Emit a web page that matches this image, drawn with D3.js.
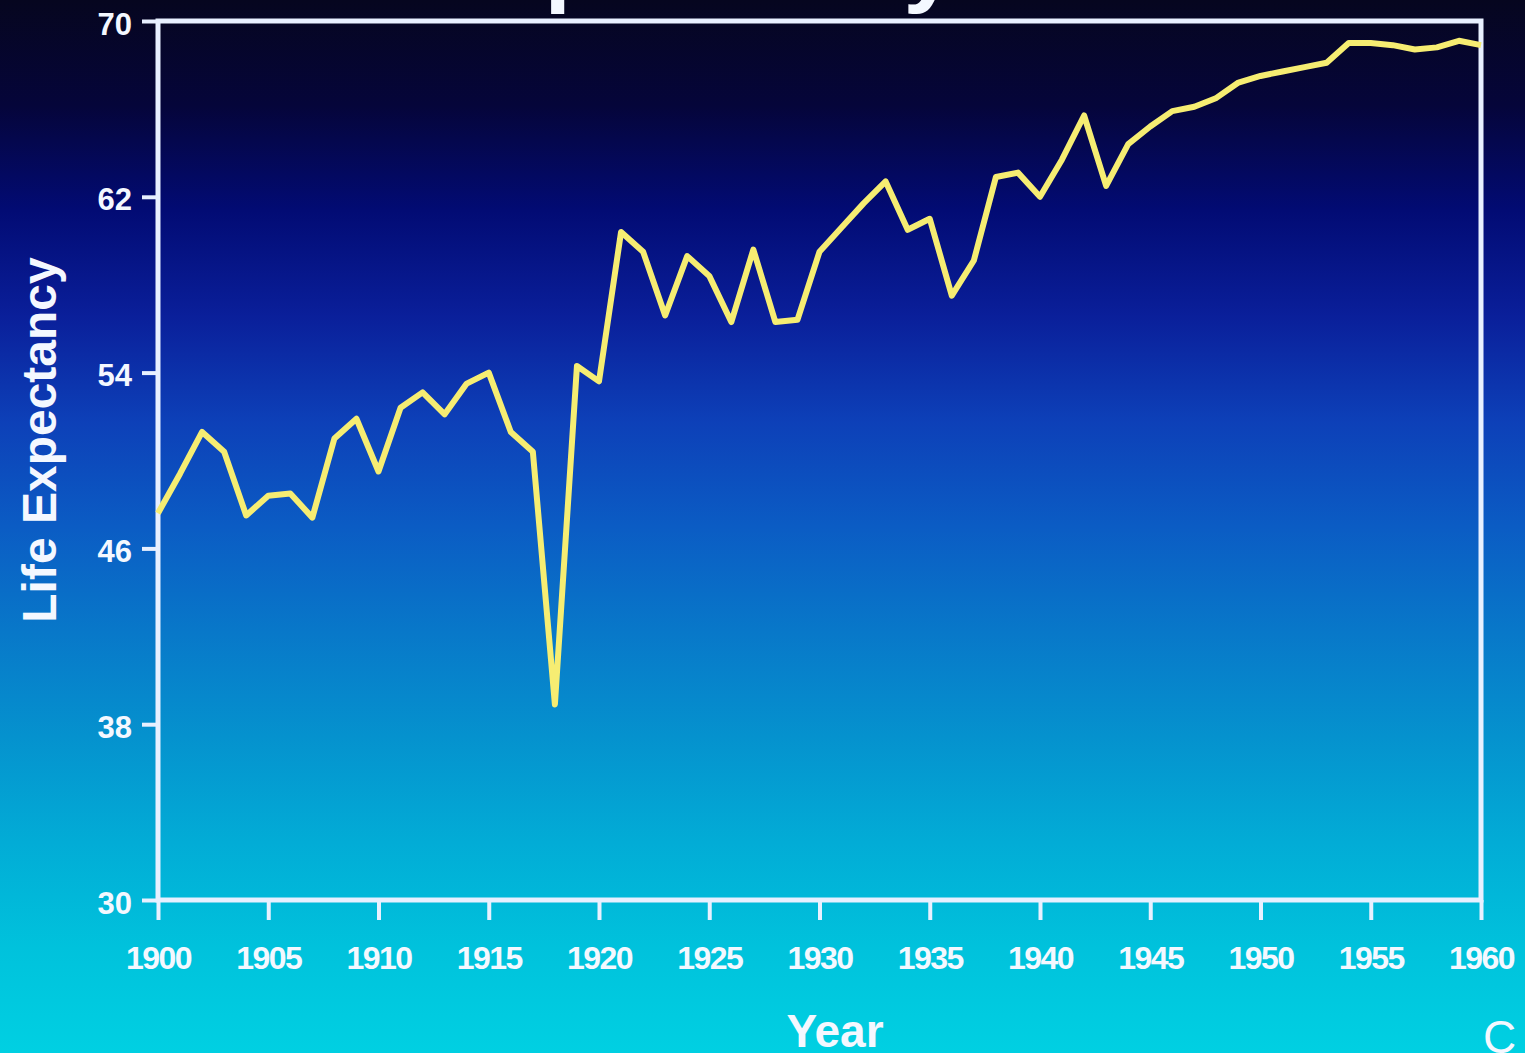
<!DOCTYPE html>
<html>
<head>
<meta charset="utf-8">
<script src="https://cdn.jsdelivr.net/npm/d3@7"></script>
<style>
  html, body { margin: 0; padding: 0; background: #050525; overflow: hidden; }
  svg { display: block; }
  .axis text { fill: #f4f8ff; font-family: "Liberation Sans", Arial, sans-serif; font-weight: bold; }
  .axis line, .axis path { stroke: #e8f0ff; stroke-width: 4; }
</style>
</head>
<body>
<script>
// Data: U.S. life expectancy by year
var startYear = 1900;
var lifeExpectancy = [
  47.6, 49.4, 51.3, 50.4, 47.5, 48.4, 48.5, 47.4, 51.0, 51.9,
  49.5, 52.4, 53.1, 52.1, 53.5, 54.0, 51.3, 50.4, 38.9, 54.3,
  53.6, 60.4, 59.5, 56.6, 59.3, 58.4, 56.3, 59.6, 56.3, 56.4,
  59.5, 60.6, 61.7, 62.7, 60.5, 61.0, 57.5, 59.1, 62.9, 63.1,
  62.0, 63.7, 65.7, 62.5, 64.4, 65.2, 65.9, 66.1, 66.5, 67.2,
  67.5, 67.7, 67.9, 68.1, 69.0, 69.0, 68.9, 68.7, 68.8, 69.1,
  68.9
];
var xTicks = [1900, 1905, 1910, 1915, 1920, 1925, 1930, 1935, 1940, 1945, 1950, 1955, 1960];
var yTicks = [30, 38, 46, 54, 62, 70];

(function() {

var W = 1525, H = 1053;
var plotLeft = 158, plotRight = 1481, plotTop = 21, plotBottom = 900;

var svg = d3.select("body").append("svg")
  .attr("width", W)
  .attr("height", H);

// Background gradient, dark navy at top to cyan at bottom
var grad = svg.append("defs").append("linearGradient")
  .attr("id", "bg")
  .attr("x1", 0).attr("y1", 0).attr("x2", 0).attr("y2", 1);
[
  [0.00, "#06061f"],
  [0.10, "#05053a"],
  [0.20, "#020b74"],
  [0.30, "#0a1f9a"],
  [0.40, "#0d40b8"],
  [0.50, "#0b5cc4"],
  [0.60, "#0878c9"],
  [0.70, "#0592ce"],
  [0.80, "#02acd6"],
  [0.90, "#00c2dc"],
  [1.00, "#00d0e2"]
].forEach(function(s) {
  grad.append("stop").attr("offset", s[0]).attr("stop-color", s[1]);
});

svg.append("rect")
  .attr("width", W)
  .attr("height", H)
  .attr("fill", "url(#bg)");

var x = d3.scaleLinear().domain([1900, 1960]).range([plotLeft, plotRight]);
var y = d3.scaleLinear().domain([30, 70]).range([plotBottom, plotTop]);

// Title, mostly cut off at the top edge in the original
svg.append("text")
  .attr("x", 233)
  .attr("y", -6)
  .attr("fill", "#f4f8ff")
  .style("font-family", "Liberation Sans, Arial, sans-serif")
  .style("font-weight", "bold")
  .style("font-size", "95px")
  .text("Life Expectancy");

// Frame
svg.append("rect")
  .attr("x", plotLeft)
  .attr("y", plotTop)
  .attr("width", plotRight - plotLeft)
  .attr("height", plotBottom - plotTop)
  .attr("fill", "none")
  .attr("stroke", "#e8f0ff")
  .attr("stroke-width", 5);

// Axes
var yAxis = svg.append("g")
  .attr("class", "axis")
  .attr("transform", "translate(" + plotLeft + ",0)")
  .call(d3.axisLeft(y).tickValues(yTicks).tickSize(16).tickPadding(10));
yAxis.selectAll("text").style("font-size", "31px").attr("dy", "0.42em");

var xAxis = svg.append("g")
  .attr("class", "axis")
  .attr("transform", "translate(0," + plotBottom + ")")
  .call(d3.axisBottom(x).tickValues(xTicks).tickFormat(d3.format("d")).tickSize(20).tickPadding(26));
xAxis.selectAll("text").style("font-size", "32px").attr("letter-spacing", "-1.5");
xAxis.select(".domain").remove();
yAxis.select(".domain").remove();

// Axis titles
svg.append("text")
  .attr("transform", "translate(56,440) rotate(-90)")
  .attr("text-anchor", "middle")
  .attr("fill", "#f4f8ff")
  .style("font-family", "Liberation Sans, Arial, sans-serif")
  .style("font-weight", "bold")
  .style("font-size", "48px")
  .text("Life Expectancy");

svg.append("text")
  .attr("x", 835)
  .attr("y", 1047)
  .attr("text-anchor", "middle")
  .attr("fill", "#f4f8ff")
  .style("font-family", "Liberation Sans, Arial, sans-serif")
  .style("font-weight", "bold")
  .style("font-size", "46px")
  .text("Year");

svg.append("text")
  .attr("x", 1483)
  .attr("y", 1053)
  .attr("fill", "#f4f8ff")
  .style("font-family", "Liberation Sans, Arial, sans-serif")
  .style("font-size", "46px")
  .text("C");

// Line
var line = d3.line()
  .x(function(d, i) { return x(startYear + i); })
  .y(function(d) { return y(d); });

svg.append("path")
  .datum(lifeExpectancy)
  .attr("fill", "none")
  .attr("stroke", "#f6ed72")
  .attr("stroke-width", 6)
  .attr("stroke-linejoin", "round")
  .attr("d", line);

})();
</script>
</body>
</html>
